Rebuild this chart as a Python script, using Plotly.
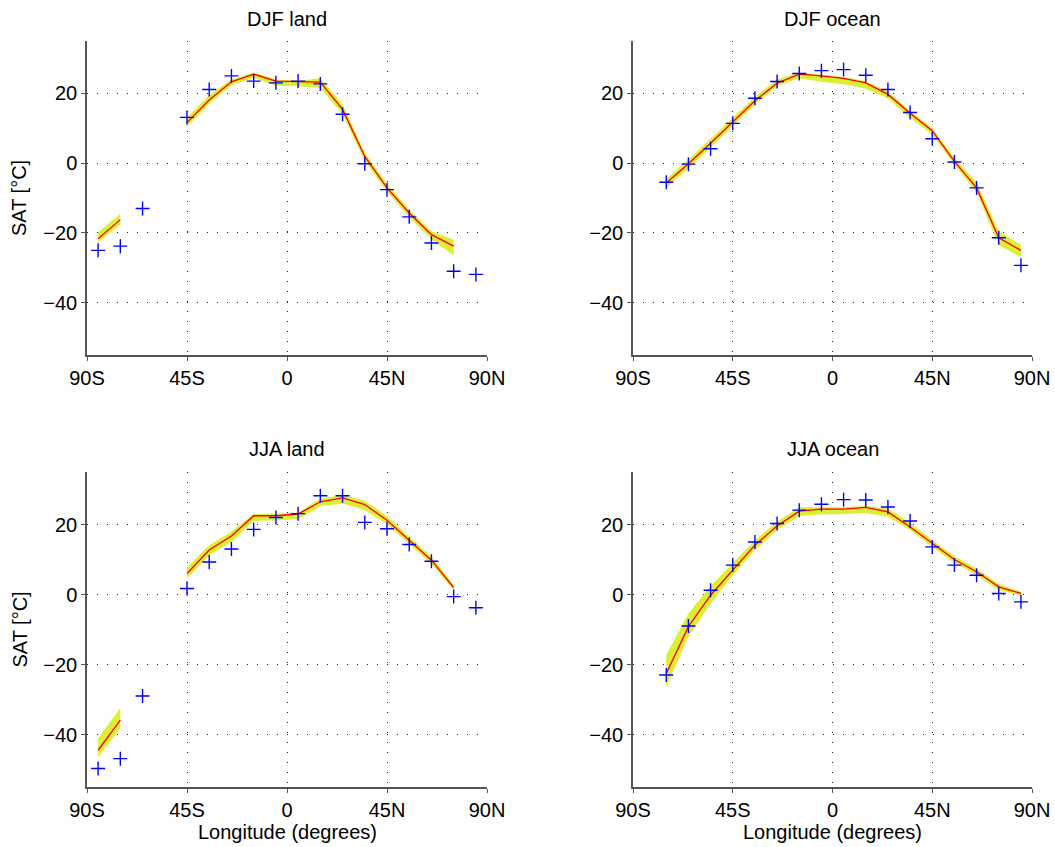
import plotly.graph_objects as go

lat = [-85, -75, -65, -55, -45, -35, -25, -15, -5, 5, 15, 25, 35, 45, 55, 65, 75, 85]
N = None

# DJF land
djf_land_obs = [-25.0, -23.8, -13.0, N, 13.1, 21.1, 25.0, 23.5, 23.0, 23.5, 22.7, 14.0, -0.2, -7.6, -15.4, -22.9, -31.0, -31.9]
djf_land_mod = [-21.7, -16.2, N, N, 11.6, 18.1, 23.3, 25.5, 23.5, 23.3, 23.2, 15.4, 1.9, -7.1, -14.3, -20.5, -23.8, N]
djf_land_hi = [-19.8, -14.5, N, N, 13.0, 19.5, 24.0, 26.0, 24.0, 23.6, 24.3, 16.8, 3.0, -6.0, -13.3, -19.5, -22.0, N]
djf_land_lo = [-22.7, -17.6, N, N, 10.4, 17.0, 22.3, 24.5, 22.2, 22.0, 21.5, 14.0, 0.5, -8.2, -15.5, -21.8, -26.5, N]

# DJF ocean
djf_ocean_obs = [N, -5.5, -0.3, 4.1, 11.4, 18.6, 23.4, 25.7, 26.5, 26.8, 25.2, 21.1, 14.5, 7.0, 0.3, -7.1, -21.4, -29.3]
djf_ocean_mod = [N, -5.7, -0.2, 5.7, 11.9, 17.9, 22.9, 25.5, 25.0, 24.3, 23.0, 19.7, 14.3, 9.3, 0.5, -7.1, -21.4, -25.0]
djf_ocean_hi = [N, -4.5, 1.0, 7.0, 13.0, 19.0, 24.0, 26.0, 25.3, 24.6, 23.5, 20.5, 15.0, 10.0, 1.5, -5.5, -19.5, -23.5]
djf_ocean_lo = [N, -7.0, -1.5, 4.5, 10.5, 16.8, 22.0, 24.3, 23.3, 22.6, 21.3, 18.6, 13.0, 8.2, -0.5, -8.5, -23.5, -27.0]

# JJA land
jja_land_obs = [-49.7, -46.9, -29.0, N, 1.7, 9.3, 13.0, 18.6, 22.0, 23.1, 28.2, 28.2, 20.6, 18.8, 14.3, 9.5, -0.6, -3.8]
jja_land_mod = [-44.5, -35.9, N, N, 6.0, 12.7, 16.7, 22.5, 22.5, 23.0, 26.5, 27.6, 25.7, 21.2, 15.5, 9.8, 2.0, N]
jja_land_hi = [-41.1, -32.4, N, N, 7.7, 14.1, 17.9, 23.1, 23.1, 23.4, 27.4, 28.4, 26.8, 22.4, 16.5, 10.8, 2.7, N]
jja_land_lo = [-46.4, -38.3, N, N, 4.6, 11.2, 15.0, 21.0, 21.2, 21.5, 25.2, 26.0, 24.1, 20.1, 14.4, 8.7, 1.2, N]

# JJA ocean
jja_ocean_obs = [N, -23.0, -9.0, 1.2, 8.4, 15.0, 20.3, 24.1, 25.8, 27.1, 27.0, 25.0, 21.0, 13.6, 8.4, 5.5, 0.3, -2.1]
jja_ocean_mod = [N, -22.6, -9.2, -0.2, 7.1, 14.1, 19.6, 23.8, 24.4, 24.4, 24.9, 23.6, 19.3, 14.6, 10.0, 6.5, 2.2, 0.3]
jja_ocean_hi = [N, -17.3, -5.4, 2.4, 8.9, 15.5, 20.8, 24.9, 24.9, 24.9, 25.3, 24.6, 20.5, 15.5, 11.0, 7.4, 3.0, 0.8]
jja_ocean_lo = [N, -26.4, -12.1, -2.6, 5.5, 12.7, 18.4, 22.4, 22.9, 22.9, 23.3, 22.2, 18.4, 13.6, 9.0, 5.5, 1.2, -0.2]

titles = ["DJF land", "DJF ocean", "JJA land", "JJA ocean"]
xtickvals = [-90, -45, 0, 45, 90]
xticktext = ["90S", "45S", "0", "45N", "90N"]
ytickvals = [-40, -20, 0, 20]

panels = [
    (djf_land_obs, djf_land_mod, djf_land_hi, djf_land_lo),
    (djf_ocean_obs, djf_ocean_mod, djf_ocean_hi, djf_ocean_lo),
    (jja_land_obs, jja_land_mod, jja_land_hi, jja_land_lo),
    (jja_ocean_obs, jja_ocean_mod, jja_ocean_hi, jja_ocean_lo),
]

W, H = 1055, 847
xdoms = [(87, 487), (633, 1032)]
ydoms = [(41, 355), (472, 787)]

FONT = "Liberation Sans, Arial, Helvetica, sans-serif"
FS = 20
BAND = "#dcef32"

fig = go.Figure()


def segments(xs, hi, lo):
    segs, cur = [], []
    for x, h, l in zip(xs, hi, lo):
        if h is None or l is None:
            if cur:
                segs.append(cur)
            cur = []
        else:
            cur.append((x, h, l))
    if cur:
        segs.append(cur)
    return segs


layout = dict(
    width=W, height=H,
    margin=dict(l=0, r=0, t=0, b=0),
    paper_bgcolor="white", plot_bgcolor="white",
    showlegend=False,
    font=dict(family=FONT, size=FS, color="black"),
)
annotations = []

for i, (obs, mod, hi, lo) in enumerate(panels):
    r, c = divmod(i, 2)
    xa = "x" if i == 0 else f"x{i+1}"
    ya = "y" if i == 0 else f"y{i+1}"
    for seg in segments(lat, hi, lo):
        xs = [s[0] for s in seg]
        px = xs + xs[::-1] + [xs[0]]
        py = [s[1] for s in seg] + [s[2] for s in seg][::-1] + [seg[0][1]]
        fig.add_trace(go.Scatter(x=px, y=py, mode="lines", fill="toself",
                                 fillcolor=BAND, line=dict(width=0, color=BAND),
                                 xaxis=xa, yaxis=ya, hoverinfo="skip"))
    fig.add_trace(go.Scatter(x=lat, y=mod, mode="lines", connectgaps=False,
                             line=dict(color="red", width=1.3),
                             xaxis=xa, yaxis=ya))
    fig.add_trace(go.Scatter(x=lat, y=obs, mode="markers",
                             marker=dict(symbol="cross-thin", size=10,
                                         line=dict(color="blue", width=1.4)),
                             xaxis=xa, yaxis=ya))

    x0, x1 = xdoms[c]
    y0, y1 = ydoms[r]
    kx = "xaxis" if i == 0 else f"xaxis{i+1}"
    ky = "yaxis" if i == 0 else f"yaxis{i+1}"
    layout[kx] = dict(
        domain=[x0 / W, x1 / W], anchor=ya, range=[-90, 90], automargin=False,
        tickvals=xtickvals, ticktext=xticktext,
        showgrid=True, gridcolor="#222", gridwidth=1, griddash="1px,9px",
        zeroline=False, showline=True, linecolor="#555", linewidth=1.5,
        ticks="outside", ticklen=4, tickcolor="#555",
        tickfont=dict(size=FS, family=FONT),
    )
    layout[ky] = dict(
        domain=[1 - y1 / H, 1 - y0 / H], anchor=xa, range=[-55, 35], automargin=False,
        tickvals=ytickvals,
        showgrid=True, gridcolor="#222", gridwidth=1, griddash="1px,9px",
        zeroline=False, showline=True, linecolor="#555", linewidth=1.5,
        ticks="outside", ticklen=4, tickcolor="#555",
        tickfont=dict(size=FS, family=FONT),
    )
    annotations.append(dict(
        text=titles[i], x=(x0 + x1) / 2 / W, y=1 - (19 if r == 0 else 449) / H,
        xref="paper", yref="paper", showarrow=False,
        xanchor="center", yanchor="middle",
        font=dict(size=FS, family=FONT),
    ))
    if r == 1:
        annotations.append(dict(
            text="Longitude (degrees)", x=(x0 + x1) / 2 / W, y=1 - 832 / H,
            xref="paper", yref="paper", showarrow=False,
            xanchor="center", yanchor="middle",
            font=dict(size=FS, family=FONT),
        ))
    if c == 0:
        annotations.append(dict(
            text="SAT [°C]", x=19 / W, y=1 - (y0 + y1) / 2 / H,
            xref="paper", yref="paper", showarrow=False, textangle=-90,
            xanchor="center", yanchor="middle",
            font=dict(size=FS, family=FONT),
        ))

layout["annotations"] = annotations
fig.update_layout(**layout)
fig.write_html("out.html")
